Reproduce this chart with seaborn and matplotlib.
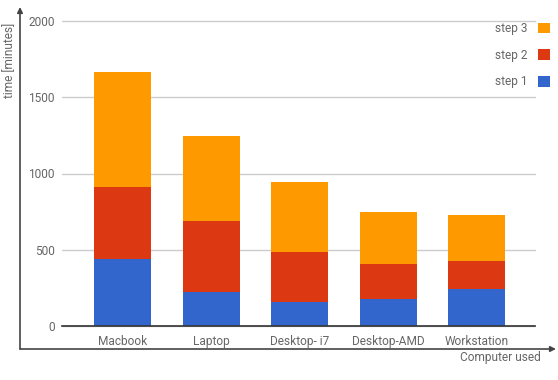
import matplotlib
matplotlib.use("Agg")
import matplotlib.pyplot as plt
from matplotlib.patches import Patch
import seaborn as sns
import pandas as pd

# values
computers = ["Macbook", "Laptop", "Desktop- i7", "Desktop-AMD", "Workstation"]
step1 = [440, 220, 160, 175, 245]
step2 = [472, 470, 327, 233, 183]
step3 = [755, 558, 458, 342, 302]
yticks = [0, 500, 1000, 1500, 2000]

colors = {"step 1": "#3366CC", "step 2": "#DC3912", "step 3": "#FF9900"}

df = pd.DataFrame({"computer": computers, "step 1": step1, "step 2": step2, "step 3": step3})
df["top1"] = df["step 1"]
df["top2"] = df["step 1"] + df["step 2"]
df["top3"] = df["top2"] + df["step 3"]

sns.set_style("white")
plt.rcParams["font.family"] = ["Roboto", "DejaVu Sans"]

W, H = 558, 380
fig = plt.figure(figsize=(W / 100, H / 100), dpi=100)
ax = fig.add_axes([62 / W, 54 / H, (535 - 62) / W, (326.3 - 21.3) / H])

# stacked bars: draw cumulative totals, tallest first
for col, name in [("top3", "step 3"), ("top2", "step 2"), ("top1", "step 1")]:
    sns.barplot(data=df, x="computer", y=col, color=colors[name], saturation=1,
                width=0.644, linewidth=0, ax=ax, zorder=3)

ax.set_xlim(-0.684, 4.66)
ax.set_ylim(0, 2000)
ax.set_yticks(yticks)
ax.set_xlabel("")
ax.set_ylabel("")
for s in ["top", "right", "left"]:
    ax.spines[s].set_visible(False)
ax.spines["bottom"].set_color("#333333")
ax.spines["bottom"].set_linewidth(1.2)
ax.spines["bottom"].set_zorder(4)
ax.grid(axis="y", color="#cccccc", linewidth=1)
ax.grid(axis="x", visible=False)
for l in ax.get_ygridlines():
    l.set_clip_on(False)
ax.tick_params(axis="both", length=0, labelsize=8.6, labelcolor="#666666")
ax.tick_params(axis="y", pad=5)
ax.tick_params(axis="x", pad=6.5)

# legend on the right, squares after labels
handles = [Patch(facecolor=colors[n], edgecolor="none", label=n) for n in ["step 3", "step 2", "step 1"]]
fig.legend(handles=handles, loc="upper right", bbox_to_anchor=(550 / W, (H - 22) / H),
           markerfirst=False, frameon=False, fontsize=8.6, labelcolor="#666666",
           handlelength=1.0, handleheight=1.0, handletextpad=0.85, labelspacing=1.15,
           borderpad=0, borderaxespad=0)

# outer arrow axes
arrow = dict(arrowstyle="-|>", color="#444444", lw=1.2, mutation_scale=8, shrinkA=0, shrinkB=0)
ax.annotate("", xy=(20, H - 7), xytext=(20, H - 349), xycoords="figure pixels",
            textcoords="figure pixels", arrowprops=arrow, annotation_clip=False)
ax.annotate("", xy=(556, H - 349), xytext=(20, H - 349), xycoords="figure pixels",
            textcoords="figure pixels", arrowprops=arrow, annotation_clip=False)

fig.text(10 / W, (H - 60) / H, "time [minutes]", rotation=90, ha="center", va="center",
         fontsize=8.6, color="#666666")
fig.text(541 / W, (H - 357) / H, "Computer used", ha="right", va="center",
         fontsize=8.6, color="#666666")

fig.savefig("out.png", dpi=100)
